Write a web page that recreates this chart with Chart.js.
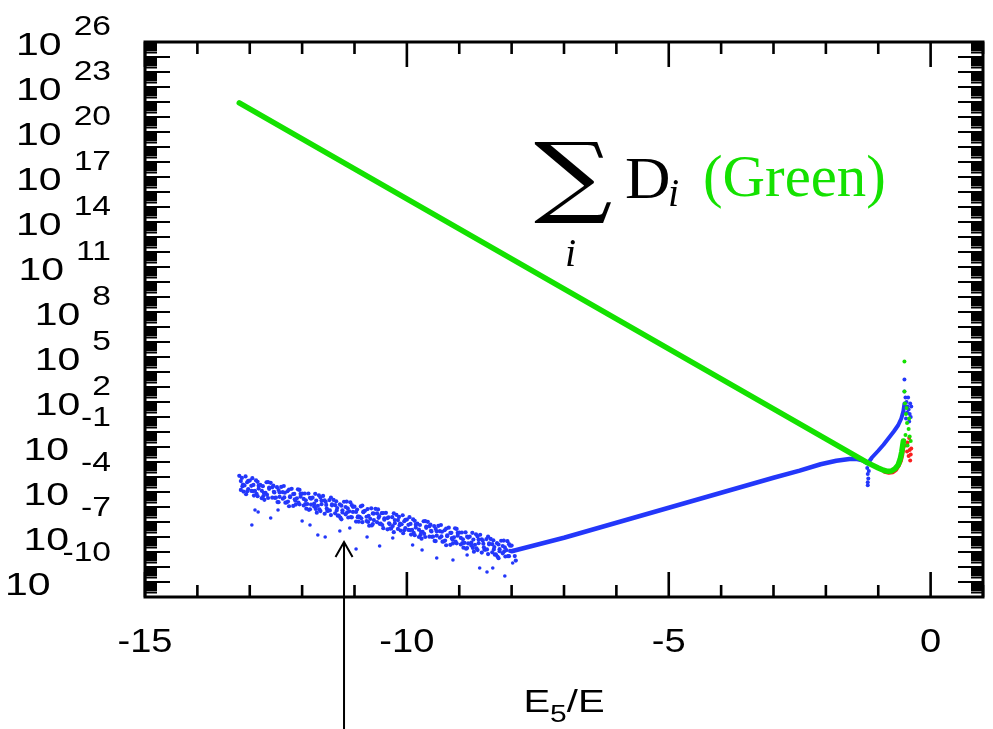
<!DOCTYPE html>
<html>
<head>
<meta charset="utf-8">
<script src="https://cdn.jsdelivr.net/npm/chart.js@4/dist/chart.umd.min.js"></script>
<style>
  html, body { margin: 0; padding: 0; background: #ffffff; }
  canvas { display: block; }
</style>
</head>
<body>
<canvas id="plot" width="993" height="729"></canvas>
<script>
// ---- Data: [E5/E, log10 of the quantity] ----
// Sum of D_i (green): straight decay, then a small dip and an upturn near zero
const greenLine = [
  [-13.2, 21.94], [-12, 19.54], [-11, 17.54], [-10, 15.54], [-9, 13.54], [-8, 11.54],
  [-7, 9.54], [-6, 7.54], [-5, 5.54], [-4, 3.54], [-3, 1.54], [-2, -0.46],
  [-1.5, -1.46], [-1.2, -2.06], [-1.0, -2.4], [-0.9, -2.55], [-0.82, -2.62],
  [-0.75, -2.6], [-0.68, -2.45], [-0.62, -2.2], [-0.58, -1.8], [-0.55, -1.3], [-0.52, -0.6]
];
const greenDots = [
  [-0.5, 4.7], [-0.5, 2.7], [-0.49, 1.9], [-0.47, 1.2], [-0.45, 0.6], [-0.42, 0.2],
  [-0.4, -0.3], [-0.38, -0.6], [-0.44, -0.9], [-0.41, 0.9], [-0.48, -0.2], [-0.46, 1.6]
];

// Red series: only visible close to zero
const redLine = [
  [-0.88, -2.66], [-0.8, -2.72], [-0.72, -2.68], [-0.66, -2.52], [-0.61, -2.25],
  [-0.57, -1.95], [-0.54, -1.5], [-0.52, -1.0]
];
const redDots = [
  [-0.5, -0.6], [-0.47, -0.9], [-0.45, -1.3], [-0.42, -1.6], [-0.4, -1.2],
  [-0.38, -1.5], [-0.44, -0.7], [-0.39, -1.9], [-0.41, -0.4], [-0.37, -1.1]
];

// Blue series: noisy region at large |E5/E|
const blueCloud = [
  [-13.2,-2.92],[-13.17,-3.27],[-13.14,-3.62],[-13.12,-3.97],
  [-13.08,-2.96],[-13.03,-3.26],[-13.1,-3.56],[-13.05,-3.96],
  [-13.0,-3.24],[-12.97,-3.59],[-12.94,-3.94],[-12.92,-4.24],
  [-12.88,-3.23],[-12.83,-3.58],[-12.9,-3.93],[-12.85,-4.28],
  [-12.8,-3.52],[-12.77,-3.92],[-12.74,-4.27],[-12.72,-4.52],
  [-12.68,-3.35],[-12.63,-3.70],[-12.7,-4.05],[-12.65,-4.40],
  [-12.6,-3.39],[-12.57,-3.69],[-12.54,-3.99],[-12.52,-4.39],
  [-12.48,-3.68],[-12.43,-4.03],[-12.5,-4.38],[-12.45,-4.68],
  [-12.4,-3.66],[-12.37,-4.01],[-12.34,-4.36],[-12.32,-4.71],
  [-12.28,-3.95],[-12.23,-4.35],[-12.3,-4.70],[-12.25,-4.95],
  [-12.2,-3.79],[-12.17,-4.14],[-12.14,-4.49],[-12.12,-4.84],
  [-12.08,-3.82],[-12.03,-4.12],[-12.1,-4.42],[-12.05,-4.82],
  [-12.0,-4.11],[-11.97,-4.46],[-11.94,-4.81],[-11.92,-5.11],
  [-11.88,-4.10],[-11.83,-4.45],[-11.9,-4.80],[-11.85,-5.15],
  [-11.8,-4.38],[-11.77,-4.78],[-11.74,-5.13],[-11.72,-5.38],
  [-11.68,-4.22],[-11.63,-4.57],[-11.7,-4.92],[-11.65,-5.27],
  [-11.6,-4.26],[-11.57,-4.56],[-11.54,-4.86],[-11.52,-5.26],
  [-11.48,-4.54],[-11.43,-4.89],[-11.5,-5.24],[-11.45,-5.54],
  [-11.4,-4.53],[-11.37,-4.88],[-11.34,-5.23],[-11.32,-5.58],
  [-11.28,-4.82],[-11.23,-5.22],[-11.3,-5.57],[-11.25,-5.82],
  [-11.2,-4.65],[-11.17,-5.00],[-11.14,-5.35],[-11.12,-5.70],
  [-11.08,-4.69],[-11.03,-4.99],[-11.1,-5.29],[-11.05,-5.69],
  [-11.0,-4.98],[-10.97,-5.33],[-10.94,-5.68],[-10.92,-5.98],
  [-10.88,-4.96],[-10.83,-5.31],[-10.9,-5.66],[-10.85,-6.01],
  [-10.8,-5.25],[-10.77,-5.65],[-10.74,-6.00],[-10.72,-6.25],
  [-10.68,-5.09],[-10.63,-5.44],[-10.7,-5.79],[-10.65,-6.14],
  [-10.6,-5.12],[-10.57,-5.42],[-10.54,-5.72],[-10.52,-6.12],
  [-10.48,-5.41],[-10.43,-5.76],[-10.5,-6.11],[-10.45,-6.41],
  [-10.4,-5.39],[-10.37,-5.74],[-10.34,-6.09],[-10.32,-6.44],
  [-10.28,-5.68],[-10.23,-6.08],[-10.3,-6.43],[-10.25,-6.68],
  [-10.2,-5.52],[-10.17,-5.87],[-10.14,-6.22],[-10.12,-6.57],
  [-10.08,-5.55],[-10.03,-5.85],[-10.1,-6.15],[-10.05,-6.55],
  [-10.0,-5.84],[-9.97,-6.19],[-9.94,-6.54],[-9.92,-6.84],
  [-9.88,-5.83],[-9.83,-6.18],[-9.9,-6.53],[-9.85,-6.88],
  [-9.8,-6.11],[-9.77,-6.51],[-9.74,-6.86],[-9.72,-7.11],
  [-9.68,-5.95],[-9.63,-6.30],[-9.7,-6.65],[-9.65,-7.00],
  [-9.6,-5.99],[-9.57,-6.29],[-9.54,-6.59],[-9.52,-6.99],
  [-9.48,-6.27],[-9.43,-6.62],[-9.5,-6.97],[-9.45,-7.27],
  [-9.4,-6.26],[-9.37,-6.61],[-9.34,-6.96],[-9.32,-7.31],
  [-9.28,-6.55],[-9.23,-6.95],[-9.3,-7.30],[-9.25,-7.55],
  [-9.2,-6.38],[-9.17,-6.73],[-9.14,-7.08],[-9.12,-7.43],
  [-9.08,-6.42],[-9.03,-6.72],[-9.1,-7.02],[-9.05,-7.42],
  [-9.0,-6.71],[-8.97,-7.06],[-8.94,-7.41],[-8.92,-7.71],
  [-8.88,-6.69],[-8.83,-7.04],[-8.9,-7.39],[-8.85,-7.74],
  [-8.8,-6.98],[-8.77,-7.38],[-8.74,-7.73],[-8.72,-7.98],
  [-8.68,-6.82],[-8.63,-7.17],[-8.7,-7.52],[-8.65,-7.87],
  [-8.6,-6.85],[-8.57,-7.15],[-8.54,-7.45],[-8.52,-7.85],
  [-8.48,-7.14],[-8.43,-7.49],[-8.5,-7.84],[-8.45,-8.14],
  [-8.4,-7.13],[-8.37,-7.48],[-8.34,-7.83],[-8.32,-8.18],
  [-8.28,-7.41],[-8.23,-7.81],[-8.3,-8.16],[-8.25,-8.41],
  [-8.2,-7.25],[-8.17,-7.60],[-8.14,-7.95],[-8.12,-8.30],
  [-8.08,-7.28],[-8.03,-7.58],[-8.1,-7.88],[-8.05,-8.28],
  [-8.0,-7.57],[-7.97,-7.92],[-7.94,-8.27],[-7.92,-8.57],
  // second pass, between the columns above
  [-13.15,-3.06],[-13.13,-3.51],[-13.17,-3.86],
  [-13.05,-3.35],[-13.03,-3.80],[-13.07,-4.15],
  [-12.95,-3.08],[-12.93,-3.53],[-12.97,-3.93],
  [-12.85,-3.32],[-12.83,-3.77],[-12.87,-4.12],
  [-12.75,-3.61],[-12.73,-4.06],[-12.77,-4.41],
  [-12.65,-3.34],[-12.63,-3.79],[-12.67,-4.19],
  [-12.55,-3.58],[-12.53,-4.03],[-12.57,-4.38],
  [-12.45,-3.87],[-12.43,-4.32],[-12.47,-4.67],
  [-12.35,-3.60],[-12.33,-4.05],[-12.37,-4.45],
  [-12.25,-3.84],[-12.23,-4.29],[-12.27,-4.64],
  [-12.15,-4.13],[-12.13,-4.58],[-12.17,-4.93],
  [-12.05,-3.86],[-12.03,-4.31],[-12.07,-4.71],
  [-11.95,-4.10],[-11.93,-4.55],[-11.97,-4.90],
  [-11.85,-4.39],[-11.83,-4.84],[-11.87,-5.19],
  [-11.75,-4.12],[-11.73,-4.57],[-11.77,-4.97],
  [-11.65,-4.36],[-11.63,-4.81],[-11.67,-5.16],
  [-11.55,-4.65],[-11.53,-5.10],[-11.57,-5.45],
  [-11.45,-4.38],[-11.43,-4.83],[-11.47,-5.23],
  [-11.35,-4.62],[-11.33,-5.07],[-11.37,-5.42],
  [-11.25,-4.91],[-11.23,-5.36],[-11.27,-5.71],
  [-11.15,-4.64],[-11.13,-5.09],[-11.17,-5.49],
  [-11.05,-4.88],[-11.03,-5.33],[-11.07,-5.68],
  [-10.95,-5.17],[-10.93,-5.62],[-10.97,-5.97],
  [-10.85,-4.90],[-10.83,-5.35],[-10.87,-5.75],
  [-10.75,-5.14],[-10.73,-5.59],[-10.77,-5.94],
  [-10.65,-5.43],[-10.63,-5.88],[-10.67,-6.23],
  [-10.55,-5.16],[-10.53,-5.61],[-10.57,-6.01],
  [-10.45,-5.40],[-10.43,-5.85],[-10.47,-6.20],
  [-10.35,-5.69],[-10.33,-6.14],[-10.37,-6.49],
  [-10.25,-5.42],[-10.23,-5.87],[-10.27,-6.27],
  [-10.15,-5.66],[-10.13,-6.11],[-10.17,-6.46],
  [-10.05,-5.95],[-10.03,-6.40],[-10.07,-6.75],
  [-9.95,-5.68],[-9.93,-6.13],[-9.97,-6.53],
  [-9.85,-5.92],[-9.83,-6.37],[-9.87,-6.72],
  [-9.75,-6.20],[-9.73,-6.65],[-9.77,-7.00],
  [-9.65,-5.94],[-9.63,-6.39],[-9.67,-6.79],
  [-9.55,-6.18],[-9.53,-6.63],[-9.57,-6.98],
  [-9.45,-6.46],[-9.43,-6.91],[-9.47,-7.26],
  [-9.35,-6.20],[-9.33,-6.65],[-9.37,-7.05],
  [-9.25,-6.44],[-9.23,-6.89],[-9.27,-7.24],
  [-9.15,-6.72],[-9.13,-7.17],[-9.17,-7.52],
  [-9.05,-6.46],[-9.03,-6.91],[-9.07,-7.31],
  [-8.95,-6.70],[-8.93,-7.15],[-8.97,-7.50],
  [-8.85,-6.98],[-8.83,-7.43],[-8.87,-7.78],
  [-8.75,-6.72],[-8.73,-7.17],[-8.77,-7.57],
  [-8.65,-6.96],[-8.63,-7.41],[-8.67,-7.76],
  [-8.55,-7.24],[-8.53,-7.69],[-8.57,-8.04],
  [-8.45,-6.98],[-8.43,-7.43],[-8.47,-7.83],
  [-8.35,-7.22],[-8.33,-7.67],[-8.37,-8.02],
  [-8.25,-7.50],[-8.23,-7.95],[-8.27,-8.30],
  [-8.15,-7.24],[-8.13,-7.69],[-8.17,-8.09],
  [-8.05,-7.48],[-8.03,-7.93],[-8.07,-8.28]
];
const blueStray = [
  [-12.96,-6.2],[-12.9,-5.2],[-12.84,-5.33],[-12.6,-5.73],[-12.46,-5.2],
  [-12.0,-5.93],[-11.85,-6.2],[-11.7,-6.87],[-11.56,-7.0],[-11.28,-6.6],
  [-11.09,-6.4],[-10.97,-7.8],[-10.76,-7.0],[-10.52,-7.6],[-10.27,-7.07],
  [-9.89,-7.53],[-9.71,-7.87],[-9.43,-8.4],[-9.12,-8.53],[-8.85,-8.2],
  [-8.61,-9.07],[-8.47,-9.33],[-8.36,-9.07],[-8.13,-9.6],[-7.98,-8.73]
];
const blueLine = [
  [-8.0,-7.95],[-7.5,-7.5],[-7.0,-7.05],[-6.0,-6.05],[-5.0,-5.05],[-4.0,-4.05],
  [-3.0,-3.05],[-2.5,-2.58],[-2.1,-2.15],[-1.8,-1.92],[-1.55,-1.8],[-1.4,-1.8],
  [-1.3,-1.88],[-1.22,-2.05]
];
const blueDip = [[-1.21,-2.4],[-1.2,-2.8],[-1.19,-3.1],[-1.2,-3.35],[-1.2,-3.55],[-1.18,-2.6]];
const blueRise = [
  [-1.2,-2.1],[-1.12,-1.7],[-1.0,-1.25],[-0.9,-0.85],[-0.8,-0.4],[-0.7,0.05],
  [-0.62,0.45],[-0.56,0.9],[-0.52,1.4],[-0.5,1.9]
];
const blueDots = [
  [-0.5,3.5],[-0.5,2.7],[-0.48,2.3],[-0.46,2.0],[-0.44,1.7],[-0.42,1.5],[-0.4,1.2],
  [-0.38,1.0],[-0.45,1.3],[-0.47,0.9],[-0.41,0.7],[-0.37,1.7],[-0.43,2.3],[-0.39,1.9]
];

// ---- Axes ----
const xRange = [-15, 1];
const xTickLabels = [-15, -10, -5, 0];
const xMinorTicks = [-14, -13, -12, -11, -9, -8, -7, -6, -4, -3, -2, -1, 1];
const yRangeExp = [-11, 26];
const yLabelExps = [26, 23, 20, 17, 14, 11, 8, 5, 2, -1, -4, -7, -10];
const xTitle = ['E', '5', '/E'];

// Arrow pointing at the noisy blue region
const arrowX = -11.2;
const arrowTipExp = -7.33;

const GREEN = 'rgb(20,225,0)';
const BLUE = 'rgb(35,55,250)';
const RED = 'rgb(250,30,30)';

const pts = arr => arr.map(([x, e]) => ({ x: x, y: Math.pow(10, e) }));

const lineSet = (arr, color, width) => ({
  data: pts(arr), showLine: true, borderColor: color, borderWidth: width,
  pointRadius: 0, tension: 0, borderCapStyle: 'round', borderJoinStyle: 'round'
});
const dotSet = (arr, color, r) => ({
  data: pts(arr), showLine: false, backgroundColor: color, borderWidth: 0,
  pointRadius: r, pointHoverRadius: r
});

function stretchedText(ctx, str, x, y, font, align, sx) {
  ctx.save();
  ctx.font = font;
  const w = ctx.measureText(str).width * sx;
  let left = x;
  if (align === 'right') left = x - w;
  else if (align === 'center') left = x - w / 2;
  ctx.translate(left, y);
  ctx.scale(sx, 1);
  ctx.textAlign = 'left';
  ctx.textBaseline = 'alphabetic';
  ctx.fillText(str, 0, 0);
  ctx.restore();
  return w;
}

const framePlugin = {
  id: 'frameAndLabels',
  afterDraw(chart) {
    const ctx = chart.ctx;
    const xs = chart.scales.x, ys = chart.scales.y;
    const a = chart.chartArea;
    ctx.save();
    ctx.strokeStyle = '#000';
    ctx.fillStyle = '#000';

    // tick marks pointing inward on all four sides
    ctx.lineWidth = 2.6;
    const xTick = (v, len) => {
      const px = xs.getPixelForValue(v);
      ctx.beginPath();
      ctx.moveTo(px, a.bottom); ctx.lineTo(px, a.bottom - len);
      ctx.moveTo(px, a.top); ctx.lineTo(px, a.top + len);
      ctx.stroke();
    };
    xTickLabels.forEach(v => xTick(v, 25));
    xMinorTicks.forEach(v => xTick(v, 12));

    ctx.lineWidth = 2.2;
    const yTick = (val, len) => {
      const py = ys.getPixelForValue(val);
      ctx.beginPath();
      ctx.moveTo(a.left, py); ctx.lineTo(a.left + len, py);
      ctx.moveTo(a.right, py); ctx.lineTo(a.right - len, py);
      ctx.stroke();
    };
    for (let e = yRangeExp[0]; e <= yRangeExp[1]; e++) {
      yTick(Math.pow(10, e), 25);
      if (e < yRangeExp[1]) {
        for (let m = 2; m <= 9; m++) yTick(m * Math.pow(10, e), 12);
      }
    }

    // frame
    ctx.lineWidth = 3;
    ctx.strokeRect(a.left, a.top, a.right - a.left, a.bottom - a.top);

    // x tick labels
    xTickLabels.forEach(v => {
      stretchedText(ctx, String(v), xs.getPixelForValue(v), a.bottom + 55,
        '34px "Liberation Sans", Arial, sans-serif', 'center', 1.12);
    });

    // y tick labels: 10 with exponent
    const expRight = 111;
    yLabelExps.forEach(e => {
      const ty = ys.getPixelForValue(Math.pow(10, e));
      const expStr = String(e);
      const expY = ty + (e >= 0 ? -17 : -31) + 10;
      const w = stretchedText(ctx, expStr, expRight, expY,
        '28px "Liberation Sans", Arial, sans-serif', 'right', 1.2);
      stretchedText(ctx, '10', expRight - w - 12, ty + 12.5,
        '32px "Liberation Sans", Arial, sans-serif', 'right', 1.28);
    });

    // x axis title E5/E
    {
      ctx.font = '32px "Liberation Sans", Arial, sans-serif';
      const sx = 1.25;
      const w1 = ctx.measureText(xTitle[0]).width * sx;
      ctx.font = '24px "Liberation Sans", Arial, sans-serif';
      const w2 = ctx.measureText(xTitle[1]).width * sx;
      ctx.font = '32px "Liberation Sans", Arial, sans-serif';
      const w3 = ctx.measureText(xTitle[2]).width * sx;
      const cx = (a.left + a.right) / 2;
      let x0 = cx - (w1 + w2 + w3) / 2;
      const base = a.bottom + 115;
      stretchedText(ctx, xTitle[0], x0, base, '32px "Liberation Sans", Arial, sans-serif', 'left', sx);
      stretchedText(ctx, xTitle[1], x0 + w1, base + 10, '24px "Liberation Sans", Arial, sans-serif', 'left', sx);
      stretchedText(ctx, xTitle[2], x0 + w1 + w2, base, '32px "Liberation Sans", Arial, sans-serif', 'left', sx);
    }

    // arrow
    {
      const ax = xs.getPixelForValue(arrowX);
      const ay = ys.getPixelForValue(Math.pow(10, arrowTipExp));
      ctx.lineWidth = 2;
      ctx.beginPath();
      ctx.moveTo(ax, chart.height); ctx.lineTo(ax, ay);
      ctx.moveTo(ax - 8.5, ay + 15); ctx.lineTo(ax, ay); ctx.lineTo(ax + 8.5, ay + 15);
      ctx.stroke();
    }

    // sum label
    {
      // big summation sign fitted into its box
      ctx.save();
      ctx.font = '100px "DejaVu Serif", "Liberation Serif", serif';
      const m = ctx.measureText('\u2211');
      const gw = m.actualBoundingBoxLeft + m.actualBoundingBoxRight;
      const gh = m.actualBoundingBoxAscent + m.actualBoundingBoxDescent;
      const bx = 534, by = 142, bw = 78, bh = 82;
      ctx.translate(bx, by);
      ctx.scale(bw / gw, bh / gh);
      ctx.textAlign = 'left';
      ctx.textBaseline = 'alphabetic';
      ctx.fillText('\u2211', m.actualBoundingBoxLeft, m.actualBoundingBoxAscent);
      ctx.restore();

      ctx.fillStyle = '#000';
      stretchedText(ctx, 'i', 565, 266, 'italic 40px "Liberation Serif", serif', 'left', 1);
      stretchedText(ctx, 'D', 625, 198, '60px "Liberation Serif", serif', 'left', 1.05);
      stretchedText(ctx, 'i', 668, 206, 'italic 40px "Liberation Serif", serif', 'left', 1);
      ctx.fillStyle = GREEN;
      stretchedText(ctx, '(Green)', 703, 196, '60px "Liberation Serif", serif', 'left', 0.98);
    }
    ctx.restore();
  }
};

new Chart(document.getElementById('plot'), {
  type: 'scatter',
  data: {
    datasets: [
      lineSet(greenLine, GREEN, 5.5),
      dotSet(greenDots, GREEN, 2),
      lineSet(redLine, RED, 4),
      dotSet(redDots, RED, 2),
      lineSet(blueRise, BLUE, 4),
      dotSet(blueDots, BLUE, 2),
      dotSet(blueDip, BLUE, 2),
      lineSet(blueLine, BLUE, 4.5),
      dotSet(blueStray, BLUE, 1.8),
      dotSet(blueCloud, BLUE, 2.1)
    ]
  },
  options: {
    responsive: false,
    animation: false,
    events: [],
    layout: { padding: { left: 145, top: 42, right: 10, bottom: 132 } },
    plugins: { legend: { display: false }, tooltip: { enabled: false } },
    scales: {
      x: { type: 'linear', min: xRange[0], max: xRange[1], display: false },
      y: { type: 'logarithmic', min: Math.pow(10, yRangeExp[0]), max: Math.pow(10, yRangeExp[1]), display: false }
    }
  },
  plugins: [framePlugin]
});
</script>
</body>
</html>
